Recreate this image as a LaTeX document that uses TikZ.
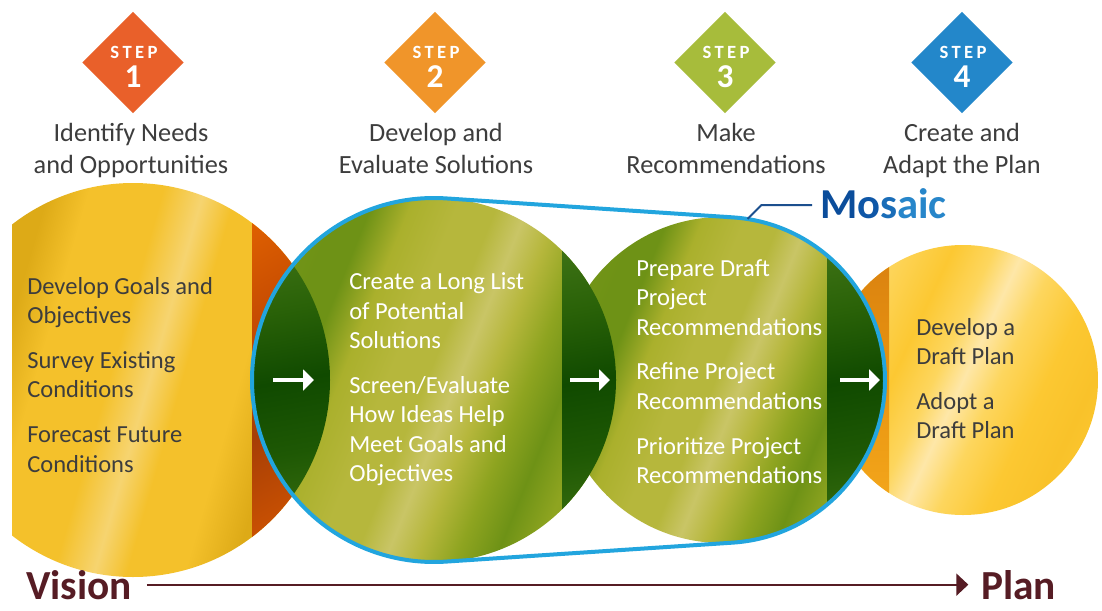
\documentclass[tikz,border=0pt]{standalone}
\usepackage{fontspec}
\setmainfont{Carlito}
\newfontfamily\tagfont{Carlito}[LetterSpace=18]
\usepackage {tikz}
\usetikzlibrary {shapes.geometric}
\usetikzlibrary{arrows.meta}

\definecolor{stepone}{HTML}{E9602A}
\definecolor{steptwo}{HTML}{F0952A}
\definecolor{stepthree}{HTML}{A7BC3B}
\definecolor{stepfour}{HTML}{2387CA}
\definecolor{ink}{HTML}{3D3D3D}
\definecolor{sky}{HTML}{22A5DE}
\definecolor{navy}{HTML}{1C4F8E}
\definecolor{maroon}{HTML}{561C24}
\definecolor{mosA}{HTML}{0B4D9B}
\definecolor{mosB}{HTML}{0F57A7}
\definecolor{mosC}{HTML}{1A6DB8}
\definecolor{mosD}{HTML}{2786CA}
\definecolor{goldA}{HTML}{DDAA17}
\definecolor{goldB}{HTML}{F4C12B}
\definecolor{goldC}{HTML}{F6D470}
\definecolor{emberA}{HTML}{E46400}
\definecolor{emberB}{HTML}{C44A02}
\definecolor{emberC}{HTML}{A63E06}
\definecolor{emberD}{HTML}{CC5202}
\definecolor{oliveA}{HTML}{6E9216}
\definecolor{oliveB}{HTML}{8EA420}
\definecolor{oliveC}{HTML}{AAB02C}
\definecolor{oliveD}{HTML}{B6B73C}
\definecolor{oliveE}{HTML}{C9C566}
\definecolor{pineA}{HTML}{45781A}
\definecolor{pineB}{HTML}{2A6208}
\definecolor{pineC}{HTML}{104A00}
\definecolor{pineD}{HTML}{1E5804}
\definecolor{pineE}{HTML}{3E7212}
\definecolor{sunA}{HTML}{FCC832}
\definecolor{sunB}{HTML}{FDD65E}
\definecolor{sunC}{HTML}{FEE7A8}
\definecolor{sunD}{HTML}{F9C22A}
\definecolor{ambA}{HTML}{DC8410}
\definecolor{ambB}{HTML}{E89410}
\definecolor{ambC}{HTML}{F2A41A}

\pgfdeclarehorizontalshading{goldsheen}{100bp}{color(0bp)=(goldA); color(33bp)=(goldA);
  color(38bp)=(goldB); color(47bp)=(goldB); color(52bp)=(goldC); color(56bp)=(goldB);
  color(63bp)=(goldB); color(69bp)=(goldA); color(100bp)=(goldA)}
\pgfdeclarehorizontalshading{embersheen}{100bp}{color(0bp)=(emberA); color(38bp)=(emberA);
  color(52bp)=(emberB); color(64bp)=(emberC); color(76bp)=(emberD); color(100bp)=(emberD)}
\pgfdeclarehorizontalshading{olivesheen}{100bp}{color(0bp)=(oliveB); color(29bp)=(oliveA);
  color(33bp)=(oliveA); color(38bp)=(oliveC); color(44bp)=(oliveD); color(49bp)=(oliveD);
  color(53bp)=(oliveE); color(57bp)=(oliveD); color(62bp)=(oliveB); color(67bp)=(oliveA);
  color(72bp)=(oliveB); color(100bp)=(oliveB)}
\pgfdeclarehorizontalshading{pinesheen}{100bp}{color(0bp)=(pineA); color(28bp)=(pineA);
  color(40bp)=(pineB); color(50bp)=(pineC); color(60bp)=(pineD); color(72bp)=(pineE);
  color(100bp)=(pineE)}
\pgfdeclarehorizontalshading{sunsheen}{100bp}{color(0bp)=(sunB); color(28bp)=(sunB);
  color(38bp)=(sunA); color(45bp)=(sunB); color(50bp)=(sunC); color(56bp)=(sunB);
  color(64bp)=(sunA); color(72bp)=(sunD); color(80bp)=(sunA); color(100bp)=(sunA)}
\pgfdeclarehorizontalshading{ambersheen}{100bp}{color(0bp)=(ambA); color(30bp)=(ambA);
  color(50bp)=(ambB); color(70bp)=(ambC); color(100bp)=(ambC)}

\tikzset{
  stepmark/.style={diamond, inner sep=0pt, minimum width=76pt, minimum height=76pt},
  steptag/.style={text=white, font=\tagfont\bfseries\fontsize{14}{16}\selectfont,
    anchor=base, inner sep=0pt},
  stepnum/.style={text=white, font=\bfseries\fontsize{25}{28}\selectfont,
    anchor=base, inner sep=0pt},
  steptitle/.style={text=ink, font=\fontsize{19.7}{23.7}\selectfont, align=center,
    anchor=north, inner sep=0pt},
  darknote/.style={text=ink, font=\fontsize{18.4}{22.1}\selectfont, align=left,
    anchor=north west, inner sep=0pt},
  lightnote/.style={darknote, text=white},
  flow/.style={draw=white, line width=3.5pt, -{Triangle[length=8.2pt, width=15.5pt]}},
  hull/.style={draw=sky, line width=3pt, line join=round},
  leader/.style={draw=navy, line width=1.5pt},
  tagline/.style={font=\bfseries\fontsize{32}{35}\selectfont, inner sep=0pt,
    outer xsep=6pt},
  rim/.style={text=maroon, font=\bfseries\fontsize{31}{34}\selectfont, inner sep=0pt,
    anchor=base west},
  trail/.style={draw=maroon, line width=1.5pt, -{Triangle[length=9pt, width=16.5pt]}}
}

\begin{document}
\begin{tikzpicture}[x=0.75pt,y=-0.75pt]
\fill[white] (0,0) rectangle (1102,610);
\useasboundingbox (0,0) rectangle (1102,610);
\path (133,380) coordinate (C1)
  (434,380) coordinate (C2)
  (722,380) coordinate (C3)
  (963,380) coordinate (C4);

\begin{scope}
\clip (C4) circle [radius=135];
\shade[shading=sunsheen, shading angle=-25] (828,245) rectangle (1098,515);
\clip (820,240) rectangle (889,520);
\shade[shading=ambersheen, shading angle=-90] (828,245) rectangle (1098,515);
\end{scope}

\begin{scope}
\clip (C3) circle [radius=163];
\shade[shading=olivesheen, shading angle=-22] (559,217) rectangle (885,543);
\clip (827,200) rectangle (890,560);
\shade[shading=pinesheen, shading angle=-80] (676,200) rectangle (1036,560);
\end{scope}

\begin{scope}
\clip (12,150) rectangle (340,600);
\clip (C1) circle [radius=197];
\shade[shading=goldsheen, shading angle=-16] (-64,183) rectangle (330,577);
\clip (252,150) rectangle (340,600);
\shade[shading=embersheen, shading angle=-60] (-64,183) rectangle (330,577);
\end{scope}

\begin{scope}
\clip (C2) circle [radius=182];
\shade[shading=olivesheen, shading angle=-22] (252,198) rectangle (616,562);
\begin{scope}
\clip (C1) circle [radius=197];
\shade[shading=pinesheen, shading angle=-80] (111,200) rectangle (471,560);
\end{scope}
\clip (562,190) rectangle (620,570);
\shade[shading=pinesheen, shading angle=-80] (410,200) rectangle (770,560);
\end{scope}

\path (273,380) coordinate (a1) ++(41,0) coordinate (b1)
  (570,380) coordinate (a2) ++(40,0) coordinate (b2)
  (840,380) coordinate (a3) ++(40,0) coordinate (b3);
\draw[flow] (a1) -- (b1);
\draw[flow] (a2) -- (b2);
\draw[flow] (a3) -- (b3);

\path (C2) ++(-86.23:182) coordinate (t2)
  (C3) ++(86.23:163) coordinate (t3);
\draw[hull] (t2) arc [start angle=-86.23, end angle=-273.77, radius=182]
  -- (t3) arc [start angle=86.23, end angle=-86.23, radius=163] -- cycle;

\node[tagline, anchor=base west] (M) at (812,218)
  {\textcolor{mosA}{M}\textcolor{mosB}{o}\textcolor{mosC}{s}\textcolor{mosD}{aic}};
\path (C3) ++(-81:163) coordinate (m0) ++(14,-14) coordinate (m1);
\draw[leader] (m0) -- (m1) -- (m1 -| M.west);

\path (27,273.4) node[darknote] (T1) {\strut Develop Goals and\\Objectives\\[11.4pt]
  Survey Existing\\Conditions\\[11.4pt]Forecast Future\\Conditions}
  (349,268.7) node[lightnote] (T2) {\strut Create a Long List\\of Potential\\Solutions\\[11.4pt]
  Screen/Evaluate\\How Ideas Help\\Meet Goals and\\Objectives}
  (636,255.4) node[lightnote] (T3) {\strut Prepare Draft\\Project\\Recommendations\\[11.4pt]
  Refine Project\\Recommendations\\[11.4pt]Prioritize Project\\Recommendations}
  (916,314.4) node[darknote] (T4) {\strut Develop a\\Draft Plan\\[11.4pt]Adopt a\\Draft Plan};

\path (133,62.5) node[stepmark, fill=stepone] (S1) {}
  (134,58.3) node[steptag] (G1) {STEP}
  (133,87.3) node[stepnum] (N1) {1}
  (131,119.6) node[steptitle] (H1) {\strut Identify Needs\\and Opportunities};
\path (435,62.5) node[stepmark, fill=steptwo] (S2) {}
  (436,58.3) node[steptag] (G2) {STEP}
  (435,87.3) node[stepnum] (N2) {2}
  (436,119.6) node[steptitle] (H2) {\strut Develop and\\Evaluate Solutions};
\path (725,62.5) node[stepmark, fill=stepthree] (S3) {}
  (726,58.3) node[steptag] (G3) {STEP}
  (725,87.3) node[stepnum] (N3) {3}
  (726,119.6) node[steptitle] (H3) {\strut Make\\Recommendations};
\path (962,62.5) node[stepmark, fill=stepfour] (S4) {}
  (963,58.3) node[steptag] (G4) {STEP}
  (962,87.3) node[stepnum] (N4) {4}
  (962,119.6) node[steptitle] (H4) {\strut Create and\\Adapt the Plan};

\node[rim] (V) at (26,599) {Vision};
\node[rim] (P) at (981,599) {Plan};
\draw[trail, shorten <=11pt, shorten >=9.5pt] (V.east) -- (V.east -| P.west);
\end{tikzpicture}
\end{document}
